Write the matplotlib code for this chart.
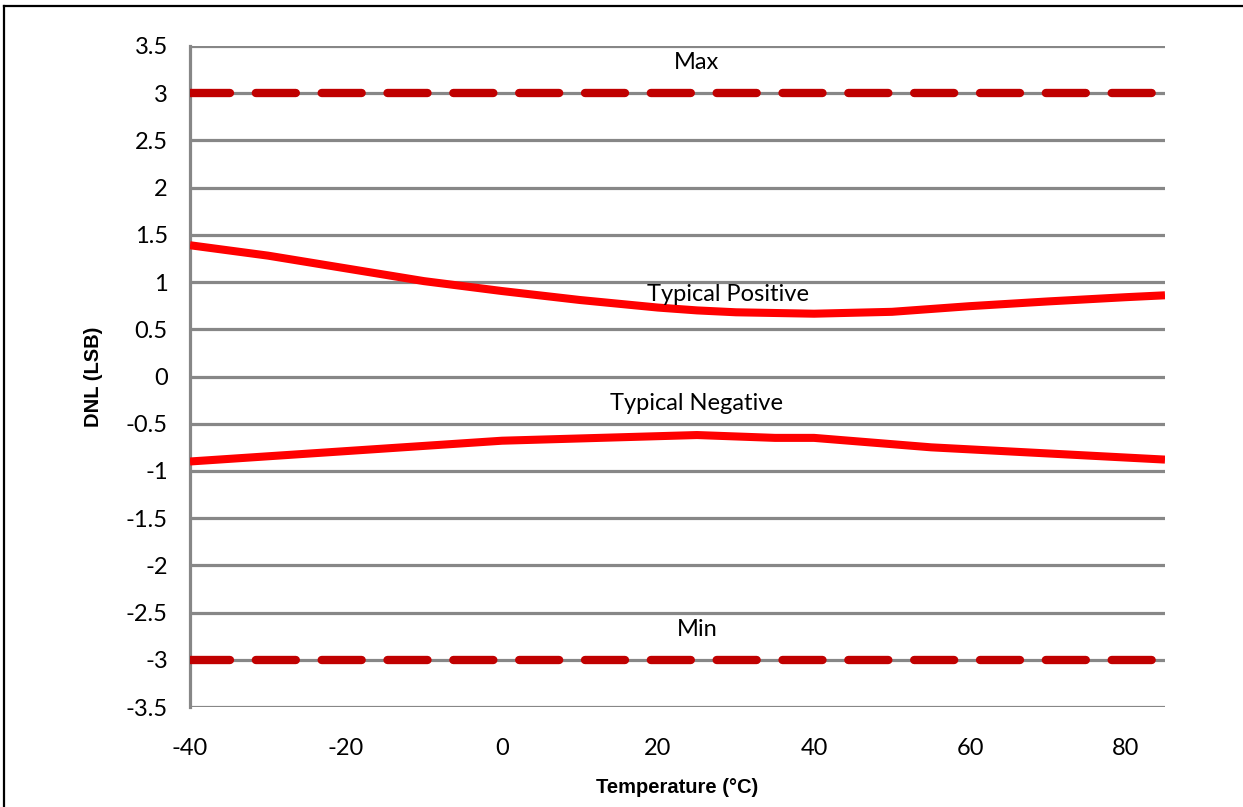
import matplotlib
matplotlib.use("Agg")
import matplotlib.pyplot as plt
from matplotlib.lines import Line2D

# ---- data ----
temps_pos = [-40, -30, -20, -10, 0, 10, 20, 25, 30, 40, 50, 60, 70, 80, 85]
dnl_pos = [1.39, 1.28, 1.145, 1.01, 0.905, 0.81, 0.73, 0.70, 0.68, 0.665, 0.685, 0.745, 0.795, 0.84, 0.86]

temps_neg = [-40, 0, 25, 35, 40, 55, 85]
dnl_neg = [-0.90, -0.68, -0.62, -0.65, -0.65, -0.75, -0.88]

temps_lim = [-40, 85]
dnl_max = [3, 3]
dnl_min = [-3, -3]

xticks = [-40, -20, 0, 20, 40, 60, 80]
yticks = [-3.5, -3, -2.5, -2, -1.5, -1, -0.5, 0, 0.5, 1, 1.5, 2, 2.5, 3, 3.5]
ytick_labels = ["-3.5", "-3", "-2.5", "-2", "-1.5", "-1", "-0.5", "0", "0.5", "1", "1.5", "2", "2.5", "3", "3.5"]

labels = ["Max", "Typical Positive", "Typical Negative", "Min"]
label_x = [25, 29, 25, 25]
label_y = [3.33, 0.87, -0.29, -2.68]

# ---- figure ----
W, H = 1243, 807
fig = plt.figure(figsize=(W / 100, H / 100), dpi=100)
ax = fig.add_axes([190 / W, 1 - 707 / H, (1165 - 190) / W, (707 - 46) / H])

grid_col = "#878787"
tick_font = "Lato"

ax.set_xlim(-40, 85)
ax.set_ylim(-3.5, 3.5)

for y in yticks:
    ax.axhline(y, color=grid_col, lw=2.3, zorder=1, solid_capstyle="butt")

for s in ["top", "right", "bottom"]:
    ax.spines[s].set_visible(False)
ax.spines["left"].set_color(grid_col)
ax.spines["left"].set_linewidth(2.3)

ax.plot(temps_pos, dnl_pos, color="#FF0000", lw=5.8, solid_joinstyle="round",
        solid_capstyle="butt", zorder=3)
ax.plot(temps_neg, dnl_neg, color="#FF0000", lw=5.8, solid_joinstyle="round",
        solid_capstyle="butt", zorder=3)

dash = (0, (4.8, 3.1))
ax.plot(temps_lim, dnl_max, color="#C00000", lw=6.0, linestyle=dash,
        dash_capstyle="round", zorder=3)
ax.plot(temps_lim, dnl_min, color="#C00000", lw=6.0, linestyle=dash,
        dash_capstyle="round", zorder=3)

for t, x, y in zip(labels, label_x, label_y):
    ax.text(x, y, t, ha="center", va="center", fontsize=17, family=tick_font, zorder=4)

ax.set_xticks(xticks)
ax.set_xticklabels([str(v) for v in xticks], fontsize=17, family=tick_font)
ax.set_yticks(yticks)
ax.set_yticklabels(ytick_labels, fontsize=17, family=tick_font)
ax.tick_params(axis="both", length=0)
ax.tick_params(axis="x", pad=22)
ax.tick_params(axis="y", pad=16)

ax.set_xlabel("Temperature (\u00b0C)", fontsize=14.5, fontweight="bold",
              family="Liberation Sans", labelpad=14)
ax.set_ylabel("DNL (LSB)", fontsize=14.5, fontweight="bold",
              family="Liberation Sans", labelpad=16)

# outer border (top and left visible)
fig.add_artist(Line2D([4 / W, 1], [1 - 6 / H, 1 - 6 / H], color="black", lw=1.6,
                      transform=fig.transFigure))
fig.add_artist(Line2D([4 / W, 4 / W], [0, 1 - 6 / H], color="black", lw=1.6,
                      transform=fig.transFigure))

fig.savefig("out.png", dpi=100)
